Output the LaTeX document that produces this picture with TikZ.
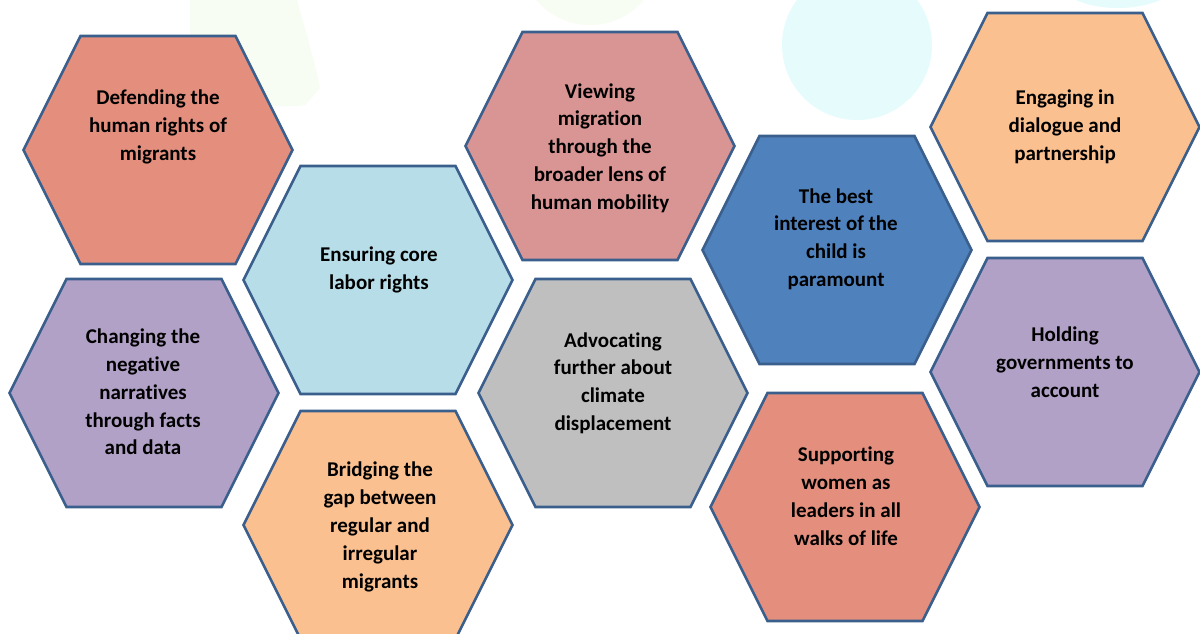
\documentclass[tikz,border=0pt]{standalone}
\usepackage{fontspec}
\setmainfont{Carlito}[Ligatures=NoCommon]
\definecolor{hexborder}{HTML}{3A5F8C}
\definecolor{csalmon}{HTML}{E48F7E}
\definecolor{clightblue}{HTML}{B7DDE8}
\definecolor{cpurple}{HTML}{B2A1C7}
\definecolor{corange}{HTML}{FAC090}
\definecolor{crose}{HTML}{D99594}
\definecolor{cgray}{HTML}{BFBFBF}
\definecolor{cblue}{HTML}{4F81BD}
\definecolor{bgcyan}{HTML}{E5FBFC}
\definecolor{bggreen}{HTML}{F7FDF2}
\tikzset{
  hexshape/.style={draw=hexborder, line width=2.6pt, line join=miter},
  hextext/.style={font=\bfseries\fontsize{21}{27.8}\selectfont, align=center, text=black, inner sep=0pt},
}
\newcommand\hexcell[4]{%
  \begin{scope}[shift={(#1,#2)}]
    \path[hexshape, fill=#3] (-134.5,0) -- (-77.5,-114) -- (77.5,-114) -- (134.5,0) -- (77.5,114) -- (-77.5,114) -- cycle;
    \coordinate (#4) at (0,0);
  \end{scope}}
\begin{document}
\begin{tikzpicture}[x=1pt,y=-1pt]
\clip (0,0) rectangle (1200,633);
\fill[white] (0,0) rectangle (1200,633);
% faint background shapes
\fill[bggreen] (190,0) -- (190,80) .. controls (215,100) and (270,110) .. (305,105) -- (320,88) .. controls (312,50) and (302,20) .. (297,0) -- cycle;
\fill[bggreen] (590,-45) circle (70);
\fill[bgcyan] (857,45) circle (75);
\fill[bgcyan] (1118,-20) ellipse (60 and 28);
% hexagons
\hexcell{158}{150}{csalmon}{c1}
\hexcell{378}{280}{clightblue}{c2}
\hexcell{144}{393}{cpurple}{c3}
\hexcell{378}{525}{corange}{c4}
\hexcell{600}{146}{crose}{c5}
\hexcell{613}{393}{cgray}{c6}
\hexcell{837}{250}{cblue}{c7}
\hexcell{845}{507}{csalmon}{c8}
\hexcell{1065}{127}{corange}{c9}
\hexcell{1065}{372}{cpurple}{c10}
% texts
\node[hextext] (t1) at (158,127) {Defending the\\human rights of\\migrants};
\node[hextext] (t2) at (379,270) {Ensuring core\\labor rights};
\node[hextext] (t3) at (143,392) {Changing the\\negative\\narratives\\through facts\\and data};
\node[hextext] (t4) at (380,527) {Bridging the\\gap between\\regular and\\irregular\\migrants};
\node[hextext] (t5) at (600,148) {Viewing\\migration\\through the\\broader lens of\\human mobility};
\node[hextext] (t6) at (613,383) {Advocating\\further about\\climate\\displacement};
\node[hextext] (t7) at (836,239) {The best\\interest of the\\child is\\paramount};
\node[hextext] (t8) at (846,496) {Supporting\\women as\\leaders in all\\walks of life};
\node[hextext] (t9) at (1065,127) {Engaging in\\dialogue and\\partnership};
\node[hextext] (t10) at (1065,362) {Holding\\governments to\\account};
\end{tikzpicture}
\end{document}
